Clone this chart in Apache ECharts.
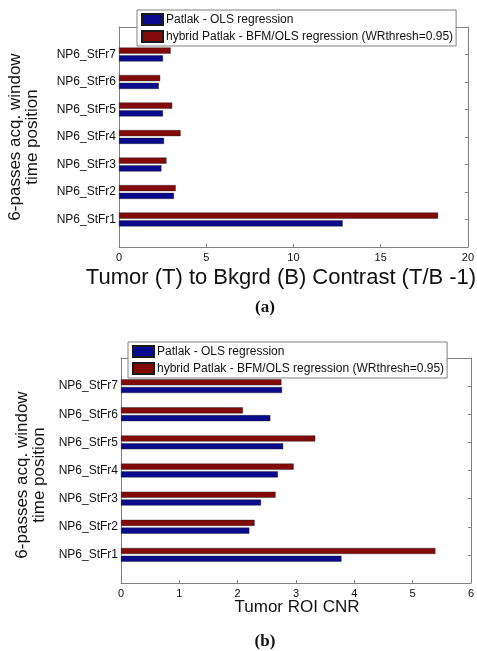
<!DOCTYPE html>
<html>
<head>
<meta charset="utf-8">
<script src="https://cdn.jsdelivr.net/npm/echarts@6/dist/echarts.min.js"></script>
<style>
  html, body { margin: 0; padding: 0; background: #fff; }
  #chart { width: 477px; height: 651px; }
</style>
</head>
<body>
<div id="chart"></div>
<script>
// Acquisition-window positions (bottom to top)
const categories = ['NP6_StFr1', 'NP6_StFr2', 'NP6_StFr3', 'NP6_StFr4', 'NP6_StFr5', 'NP6_StFr6', 'NP6_StFr7'];

// (a) Tumor-to-background contrast (T/B - 1)
const contrastOLS    = [12.82, 3.15, 2.43, 2.58, 2.52, 2.28, 2.52];
const contrastHybrid = [18.29, 3.25, 2.72, 3.53, 3.05, 2.36, 2.96];

// (b) Tumor ROI contrast-to-noise ratio
const cnrOLS    = [3.78, 2.20, 2.40, 2.69, 2.78, 2.56, 2.76];
const cnrHybrid = [5.39, 2.29, 2.65, 2.96, 3.33, 2.09, 2.75];

const contrastAxis = { min: 0, max: 20, interval: 5 };
const cnrAxis = { min: 0, max: 6, interval: 1 };

const nameOLS = 'Patlak - OLS regression';
const nameHybrid = 'hybrid Patlak - BFM/OLS regression (WRthresh=0.95)';

const SANS = '"Liberation Sans", Arial, sans-serif';
const SERIF = '"Liberation Serif", "Times New Roman", serif';
const AXIS_COLOR = '#808080';
const BLUE = '#0a0a8c';
const RED = '#820a0a';

// Empty slots at each end so the categories sit at 1..7 on a 0..8 span
const padCats = ['', ...categories, ''];
const pad = arr => ['-', ...arr, '-'];

function xAxes(grid, range) {
  return [
    {
      type: 'value', gridIndex: grid, position: 'bottom',
      min: range.min, max: range.max, interval: range.interval,
      axisLine: { show: true, lineStyle: { color: AXIS_COLOR, width: 1 } },
      axisTick: { show: true, inside: true, length: 3, lineStyle: { color: AXIS_COLOR } },
      axisLabel: { margin: 5, fontSize: 11, fontFamily: SANS, color: '#111' },
      splitLine: { show: false }
    },
    {
      type: 'value', gridIndex: grid, position: 'top',
      min: range.min, max: range.max, interval: range.interval,
      axisLine: { show: true, onZero: false, lineStyle: { color: AXIS_COLOR, width: 1 } },
      axisTick: { show: false },
      axisLabel: { show: false },
      splitLine: { show: false }
    }
  ];
}

function yAxes(grid) {
  return [
    {
      type: 'category', gridIndex: grid, position: 'left',
      data: padCats, boundaryGap: false,
      axisLine: { show: true, onZero: false, lineStyle: { color: AXIS_COLOR, width: 1 } },
      axisTick: { show: false },
      axisLabel: { interval: 0, margin: 3, fontSize: 12, fontFamily: SANS, color: '#111' },
      splitLine: { show: false }
    },
    {
      type: 'category', gridIndex: grid, position: 'right',
      data: padCats, boundaryGap: false,
      axisLine: { show: true, onZero: false, lineStyle: { color: AXIS_COLOR, width: 1 } },
      axisTick: { show: true, inside: true, length: 3, interval: 0, lineStyle: { color: AXIS_COLOR } },
      axisLabel: { show: false },
      splitLine: { show: false }
    }
  ];
}

function barSeries(name, data, color, xIdx, yIdx) {
  return {
    type: 'bar', name: name, data: pad(data),
    xAxisIndex: xIdx, yAxisIndex: yIdx,
    barWidth: 6, barGap: '30%',
    itemStyle: { color: color, borderColor: '#1a1a1a', borderWidth: 0.4 },
    silent: true, animation: false
  };
}

function legend(left, top) {
  return {
    data: [nameOLS, nameHybrid],
    orient: 'vertical', left: left, top: top,
    padding: [3, 3, 3, 4], itemGap: 4,
    itemWidth: 21, itemHeight: 11, icon: 'rect',
    selectedMode: false,
    backgroundColor: '#fff', borderColor: AXIS_COLOR, borderWidth: 1,
    textStyle: { fontSize: 12, fontFamily: SANS, color: '#111', padding: [0, 0, 0, -2] }
  };
}

function yTitle(x, y) {
  return {
    type: 'text', x: x, y: y, rotation: Math.PI / 2,
    style: {
      text: '6-passes acq. window\ntime position',
      font: '17px ' + SANS, fill: '#111',
      align: 'center', verticalAlign: 'middle', lineHeight: 17
    }
  };
}

function plainText(text, x, y, font) {
  return {
    type: 'text', x: x, y: y,
    style: { text: text, font: font, fill: '#111', align: 'center', verticalAlign: 'middle' }
  };
}

const option = {
  backgroundColor: '#fff',
  animation: false,
  grid: [
    { left: 119, right: 7, top: 27, height: 220 },
    { left: 121, right: 4, top: 358, height: 225 }
  ],
  xAxis: [...xAxes(0, contrastAxis), ...xAxes(1, cnrAxis)],
  yAxis: [...yAxes(0), ...yAxes(1)],
  legend: [legend(137, 10), legend(128, 342)],
  // hybrid series first so its bar sits above the OLS bar in each group
  series: [
    barSeries(nameHybrid, contrastHybrid, RED, 0, 0),
    barSeries(nameOLS, contrastOLS, BLUE, 0, 0),
    barSeries(nameHybrid, cnrHybrid, RED, 2, 2),
    barSeries(nameOLS, cnrOLS, BLUE, 2, 2)
  ],
  graphic: [
    yTitle(24, 137),
    yTitle(31, 475),
    plainText('Tumor (T) to Bkgrd (B) Contrast (T/B -1)', 281, 278, '22px ' + SANS),
    plainText('Tumor ROI CNR', 297, 607, '17px ' + SANS),
    plainText('(a)', 265, 308, 'bold 17px ' + SERIF),
    plainText('(b)', 265, 642, 'bold 17px ' + SERIF)
  ]
};

const chart = echarts.init(document.getElementById('chart'), null, { renderer: 'canvas' });
chart.setOption(option);
</script>
</body>
</html>
